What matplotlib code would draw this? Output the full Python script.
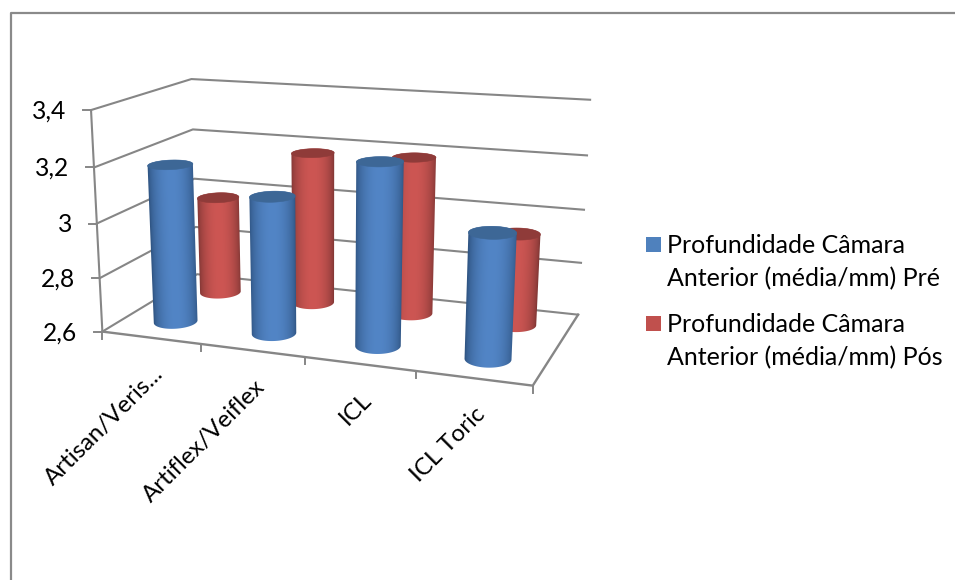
import matplotlib
matplotlib.use('Agg')
import matplotlib.pyplot as plt
import numpy as np
from matplotlib.colors import to_rgb
from matplotlib.patches import Polygon, Rectangle

categories = ['Artisan/Veris...', 'Artiflex/Veiflex', 'ICL', 'ICL Toric']
pre_values = [3.185, 3.10, 3.25, 3.04]
pos_values = [2.98, 3.18, 3.19, 2.94]
value_ticks = [2.6, 2.8, 3.0, 3.2, 3.4]
value_labels = ['2,6', '2,8', '3', '3,2', '3,4']
legend_labels = ['Profundidade Câmara\nAnterior (média/mm) Pré',
                 'Profundidade Câmara\nAnterior (média/mm) Pós']

GRID = '#868686'
FONT = 'Lato'

# camera fit: box corners (category, depth, value) -> pixel of the picture
box = np.array([[0, 0, 2.6], [4, 0, 2.6], [4, 1, 2.6], [0, 1, 2.6], [0, 0, 3.4], [0, 1, 3.4],
                [4, 1, 3.4], [0, 0, 3.0], [0, 1, 3.0], [4, 1, 3.0]])
pix = np.array([[102, 330], [533, 387], [578, 313], [197, 277], [90, 111], [192, 79],
                [590, 100], [98, 223], [194, 177], [584, 210]], dtype=float)

rows = []
rhs = []
for (u, v, z), (px, py) in zip(box, pix):
    rows.append([u, v, z, 1, 0, 0, 0, 0, -px*u, -px*v, -px*z])
    rows.append([0, 0, 0, 0, u, v, z, 1, -py*u, -py*v, -py*z])
    rhs += [px, py]
cam = np.append(np.linalg.lstsq(np.array(rows), np.array(rhs), rcond=None)[0], 1).reshape(3, 4)


def proj(u, v, z):
    u, v, z = np.broadcast_arrays(np.asarray(u, float), np.asarray(v, float), np.asarray(z, float))
    p = cam @ np.stack([u, v, z, np.ones_like(u)])
    return p[0]/p[2], p[1]/p[2]


def cylinder(ax, u0, v0, val, side, centre, top, z):
    n = 144
    t = np.arange(n)*2*np.pi/n
    u = u0 + 0.2*np.cos(t)
    v = v0 + 0.11*np.sin(t)
    xb, yb = proj(u, v, 2.6)
    xt, yt = proj(u, v, val)

    # outline: lower arc of the base, upper arc of the top
    def arc(a, b):
        return (a + np.arange((b - a) % n + 1)) % n
    lb, rb = np.argmin(xb), np.argmax(xb)
    lt, rt = np.argmin(xt), np.argmax(xt)
    low = arc(lb, rb)
    up = arc(rt, lt)
    outline = np.vstack([np.column_stack([xb[low], yb[low]]), np.column_stack([xt[up], yt[up]])])

    # shading across the body, following its slant
    x0, x1 = outline[:, 0].min() - 1, outline[:, 0].max() + 1
    y0, y1 = outline[:, 1].min() - 1, outline[:, 1].max() + 1
    gx, gy = np.meshgrid(np.arange(x0, x1, 0.5), np.arange(y0, y1, 0.5))
    k = (gy - yb[lb])/(yt[lt] - yb[lb])
    left = xb[lb] + (xt[lt] - xb[lb])*k
    right = xb[rb] + (xt[rt] - xb[rb])*k
    s = np.clip((gx - left)/(right - left), 0, 1)
    f = np.sin(np.pi*s)[..., None]**0.6
    side, centre = np.array(to_rgb(side)), np.array(to_rgb(centre))
    im = ax.imshow(side + (centre - side)*f, extent=(x0, x1, y1, y0), aspect='auto', zorder=z,
                   interpolation='bilinear')
    body = Polygon(outline, closed=True, transform=ax.transData, fc='none', ec='none')
    ax.add_patch(body)
    im.set_clip_path(body)
    ax.add_patch(Polygon(np.column_stack([xt, yt]), closed=True, fc=top, ec=top, lw=0.4, zorder=z + 0.5))


fig = plt.figure(figsize=(9.55, 5.8), dpi=100)
ax = fig.add_axes([0, 0, 1, 1])
ax.axis('off')

# outer frame
ax.plot([11, 11, 955], [580, 12.5, 12.5], color='#8a8a8a', lw=1.6)

# walls and floor
for val in value_ticks:
    x, y = proj([0, 0, 4], [0, 1, 1], val)
    ax.plot(x, y, color=GRID, lw=1.5)
x, y = proj([0, 0], [0, 0], [2.6, 3.4])
ax.plot(x, y, color=GRID, lw=1.5)
x, y = proj([0, 4, 4], [0, 0, 1], 2.6)
ax.plot(x, y, color=GRID, lw=1.7)

# value axis
for val, lab in zip(value_ticks, value_labels):
    x, y = proj(0, 0, val)
    ax.plot([x - 8, x], [y, y], color=GRID, lw=1.4)
    ax.text(x - 25, y + 1, lab, ha='right', va='center', fontsize=17.7, family=FONT)

# category axis
for i in range(len(categories) + 1):
    x, y = proj(i, 0, 2.6)
    ax.plot([x, x], [y, y + 7], color=GRID, lw=1.4)
for i, lab in enumerate(categories):
    x, y = proj(i + 0.5, 0, 2.6)
    ax.text(x + 9, y + 33, lab, rotation=45, rotation_mode='anchor', ha='right', va='center',
            fontsize=17.3, family=FONT)

# back row, then front row
for i, val in enumerate(pos_values):
    cylinder(ax, i + 0.5, 0.75, val, '#7d3533', '#cd5653', '#8f3b39', 3 + i)
for i, val in enumerate(pre_values):
    cylinder(ax, i + 0.5, 0.25, val, '#2f5482', '#5285c6', '#3d6796', 8 + i)

# legend
for lab, col, y0 in zip(legend_labels, ['#4f81bd', '#c0504d'], [252, 331]):
    ax.add_patch(Rectangle((646, y0 - 15), 15, 15, fc=col, ec='none'))
    for j, line in enumerate(lab.split('\n')):
        ax.text(667, y0 + 1 + j*33, line, ha='left', va='baseline', fontsize=18, family=FONT)

ax.set_xlim(0, 955)
ax.set_ylim(580, 0)
fig.savefig('out.png', dpi=100)
